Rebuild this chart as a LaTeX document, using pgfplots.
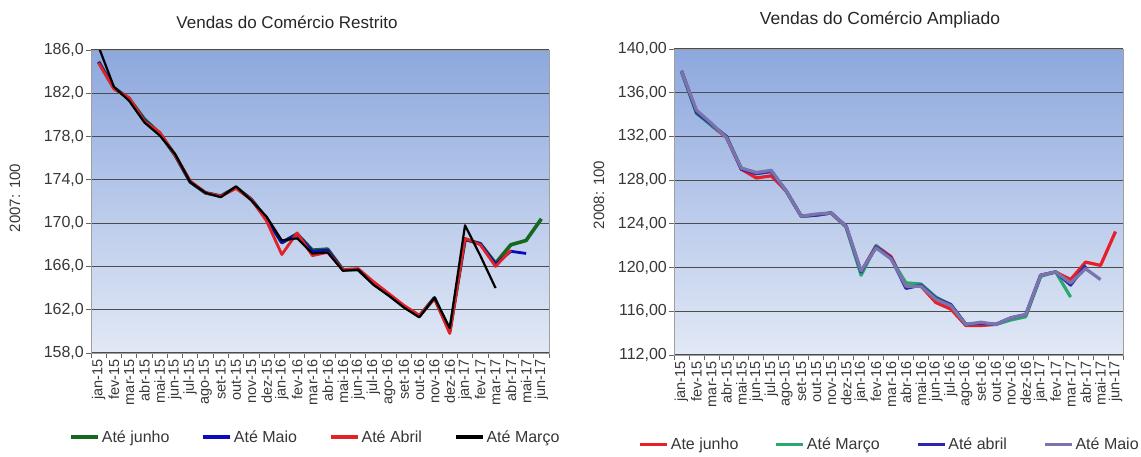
\documentclass[border=0pt]{standalone}
\usepackage{fontspec}
\setmainfont{Liberation Sans}
\usepackage{pgfplots}
\pgfplotsset{compat=1.18}
\definecolor{bgtop}{RGB}{141,168,222}
\definecolor{bgbot}{RGB}{226,233,246}
\definecolor{lgreen}{RGB}{20,105,30}
\definecolor{lblue}{RGB}{10,10,190}
\definecolor{lred}{RGB}{225,35,40}
\definecolor{rred}{RGB}{232,30,40}
\definecolor{rgreen}{RGB}{40,170,110}
\definecolor{rblue}{RGB}{45,40,170}
\definecolor{rpurple}{RGB}{122,115,172}
\definecolor{txt}{RGB}{55,55,55}
\pgfplotsset{
  mystyle/.style={
    scale only axis,
    xmin=-0.5, xmax=29.5,
    clip=true,
    xtick={0,...,29},
    xticklabels={jan-15,fev-15,mar-15,abr-15,mai-15,jun-15,jul-15,ago-15,set-15,out-15,nov-15,dez-15,jan-16,fev-16,mar-16,abr-16,mai-16,jun-16,jul-16,ago-16,set-16,out-16,nov-16,dez-16,jan-17,fev-17,mar-17,abr-17,mai-17,jun-17},
    x tick label style={rotate=90, anchor=east, font=\fontsize{14.5}{14.5}\selectfont, text=txt, inner sep=1pt},
    y tick label style={font=\fontsize{16}{16}\selectfont, text=txt, inner sep=2pt},
    major x tick style={draw=none},
    minor xtick={-0.5,0.5,...,29.5},
    minor tick length=5pt,
    major tick length=5pt,
    tick align=outside,
    tick style={gray!80!black, line width=0.8pt},
    xtick pos=bottom, ytick pos=left,
    axis line style={gray!75, line width=0.8pt},
    axis background/.style={top color=bgtop, bottom color=bgbot},
    ymajorgrids,
    major grid style={draw=black!70, line width=1.1pt},
    legend columns=4,
    legend style={draw=none, fill=none, font=\fontsize{16}{16}\selectfont, text=txt, inner sep=0pt,
      /tikz/every even column/.append style={column sep=30pt}},
    legend image code/.code={\draw[#1, line width=3.5pt] (0pt,0pt) -- (27pt,0pt);},
  }
}
\pgfplotstableread{
i g b r k
0 184.9 184.9 184.8 186.3
1 182.5 182.5 182.4 182.6
2 181.5 181.5 181.6 181.3
3 179.6 179.5 179.4 179.3
4 178.3 178.3 178.4 178.1
5 176.3 176.3 176.3 176.4
6 173.8 173.8 173.9 173.8
7 172.8 172.8 172.8 172.8
8 172.5 172.5 172.5 172.4
9 173.3 173.3 173.2 173.4
10 172.2 172.2 172.2 172.1
11 170.4 170.4 170.2 170.6
12 168.2 168.2 167.1 168.4
13 169.0 169.0 169.1 168.6
14 167.5 167.4 167.0 167.2
15 167.6 167.5 167.3 167.3
16 165.7 165.7 165.7 165.6
17 165.7 165.7 165.8 165.7
18 164.4 164.4 164.6 164.3
19 163.4 163.4 163.5 163.3
20 162.3 162.3 162.4 162.2
21 161.4 161.4 161.5 161.3
22 163.1 163.1 163.0 163.1
23 160.0 160.0 159.8 160.3
24 168.5 168.5 168.6 169.8
25 168.1 168.1 168.0 167.0
26 166.3 166.2 166.0 164.0
27 168.0 167.4 167.5 nan
28 168.4 167.2 nan nan
29 170.4 nan nan nan
}\lefttab
\pgfplotstableread{
i r g b p
0 138.0 137.9 138.0 138.0
1 134.3 134.1 134.2 134.4
2 133.0 133.0 133.1 133.2
3 131.9 132.0 132.0 131.9
4 129.0 129.1 129.0 129.1
5 128.2 128.6 128.6 128.7
6 128.4 128.8 128.8 128.9
7 127.0 127.0 127.0 127.0
8 124.7 124.7 124.7 124.7
9 124.8 124.8 124.8 124.9
10 125.0 125.0 125.0 125.0
11 123.7 123.7 123.8 123.8
12 119.6 119.3 119.6 119.7
13 122.0 122.0 121.9 121.8
14 121.0 120.8 120.9 120.8
15 118.3 118.6 118.1 118.3
16 118.3 118.5 118.4 118.3
17 116.8 117.3 117.2 117.1
18 116.2 116.6 116.6 116.5
19 114.7 114.8 114.8 114.8
20 114.7 114.9 114.9 115.0
21 114.8 114.8 114.8 114.8
22 115.3 115.2 115.4 115.4
23 115.6 115.5 115.7 115.7
24 119.3 119.2 119.3 119.3
25 119.6 119.6 119.6 119.6
26 118.9 117.3 118.4 118.6
27 120.5 nan 120.2 119.9
28 120.2 nan nan 118.9
29 123.3 nan nan nan
}\righttab
\begin{document}
\begin{tikzpicture}
\useasboundingbox (0,0) rectangle (1141pt,-456pt);
\node[font=\fontsize{17}{19}\selectfont, text=black!85] at (287pt,-22pt) {Vendas do Comércio Restrito};
\node[font=\fontsize{17.5}{19}\selectfont, text=black!85] at (880pt,-20pt) {Vendas do Comércio Ampliado};
\node[rotate=90, font=\fontsize{15}{15}\selectfont, text=txt] at (15pt,-198pt) {2007: 100};
\node[rotate=90, font=\fontsize{15}{15}\selectfont, text=txt] at (599pt,-195pt) {2008: 100};
\begin{axis}[mystyle,
  at={(91pt,-353pt)}, anchor=south west,
  width=458pt, height=303pt,
  ymin=158, ymax=186,
  ytick={158,162,...,186},
  yticklabels={{158,0},{162,0},{166,0},{170,0},{174,0},{178,0},{182,0},{186,0}},
  legend style={at={(0.49,-0.277)}, anchor=center},
  unbounded coords=jump,
]
\addplot[lgreen, line width=3.6pt, line join=round] table[x=i,y=g]{\lefttab};
\addlegendentry{Até junho}
\addplot[lblue, line width=2.8pt, line join=round] table[x=i,y=b]{\lefttab};
\addlegendentry{Até Maio}
\addplot[lred, line width=2.8pt, line join=round] table[x=i,y=r]{\lefttab};
\addlegendentry{Até Abril}
\addplot[black, line width=2.2pt, line join=round] table[x=i,y=k]{\lefttab};
\addlegendentry{Até Março}
\end{axis}
\begin{axis}[mystyle,
  at={(674pt,-355pt)}, anchor=south west,
  width=449pt, height=306pt,
  ymin=112, ymax=140,
  ytick={112,116,...,140},
  yticklabels={{112,00},{116,00},{120,00},{124,00},{128,00},{132,00},{136,00},{140,00}},
  legend style={at={(0.48,-0.292)}, anchor=center,
    /tikz/every even column/.append style={column sep=34pt}},
  unbounded coords=jump,
]
\addplot[rred, line width=3.2pt, line join=round] table[x=i,y=r]{\righttab};
\addlegendentry{Ate junho}
\addplot[rgreen, line width=3.2pt, line join=round] table[x=i,y=g]{\righttab};
\addlegendentry{Até Março}
\addplot[rblue, line width=3.2pt, line join=round] table[x=i,y=b]{\righttab};
\addlegendentry{Até abril}
\addplot[rpurple, line width=3.2pt, line join=round] table[x=i,y=p]{\righttab};
\addlegendentry{Até Maio}
\end{axis}
\end{tikzpicture}
\end{document}
